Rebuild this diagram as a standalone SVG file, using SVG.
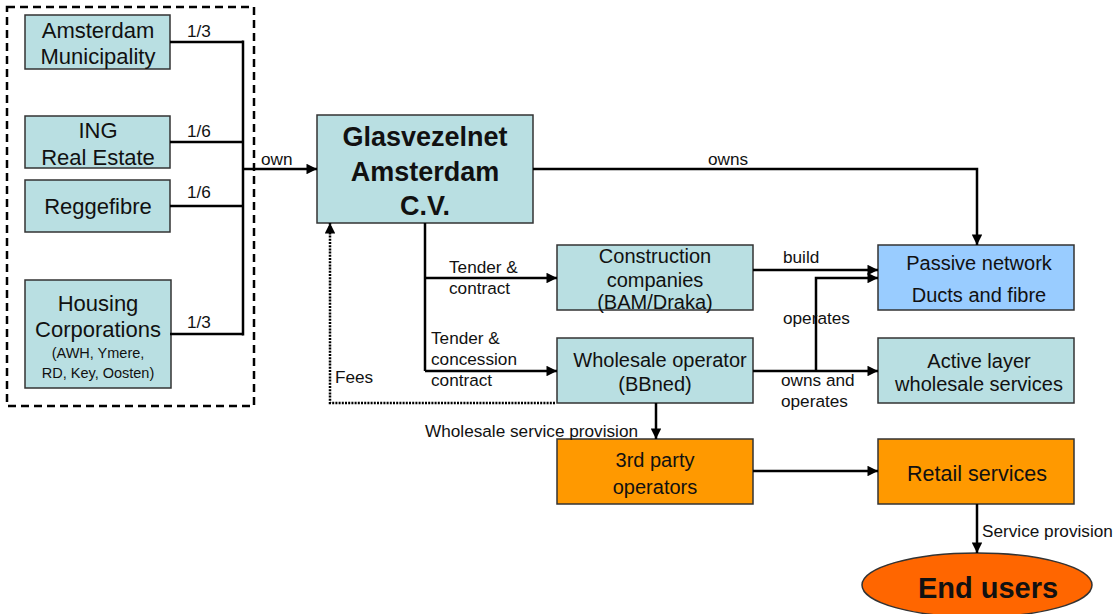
<svg xmlns="http://www.w3.org/2000/svg" width="1117" height="614" viewBox="0 0 1117 614">
<style>
text{font-family:"Liberation Sans",Arial,sans-serif;fill:#111}
.box{fill:#b9dfe2;stroke:#333;stroke-width:1.5}
.pas{fill:#99ccff;stroke:#333;stroke-width:1.5}
.org{fill:#ff9900;stroke:#333;stroke-width:1.5}
.t22{font-size:22px;text-anchor:middle}
.t20{font-size:20px;text-anchor:middle}
.t21{font-size:21.5px;text-anchor:middle}
.t14{font-size:14.5px;text-anchor:middle}
.b{font-weight:bold;text-anchor:middle}
.lab{font-size:17.2px}
.ln{fill:none;stroke:#000;stroke-width:2.5}
</style>
<defs>
<marker id="ah" viewBox="0 0 10 10" refX="10" refY="5" markerWidth="4.6" markerHeight="4.2" orient="auto" markerUnits="strokeWidth"><path d="M0,0L10,5L0,10z" fill="#000"/></marker>
</defs>
<rect x="7" y="7" width="247" height="399" fill="none" stroke="#000" stroke-width="2.5" stroke-dasharray="8,5"/>
<g id="amsterdam"><rect class="box" x="25" y="15" width="145" height="54"/><text class="t22" x="98" y="38">Amsterdam</text><text class="t22" x="98" y="64">Municipality</text></g>
<g id="ing"><rect class="box" x="25" y="116" width="145" height="52"/><text class="t22" x="98" y="138">ING</text><text class="t22" x="98" y="165">Real Estate</text></g>
<g id="reggefibre"><rect class="box" x="25" y="180" width="145" height="52"/><text class="t22" x="98" y="214">Reggefibre</text></g>
<g id="housing"><rect class="box" x="25" y="280" width="146" height="108"/><text class="t22" x="98" y="311">Housing</text><text class="t22" x="98" y="337">Corporations</text><text class="t14" x="98" y="358">(AWH, Ymere,</text><text class="t14" x="98" y="378">RD, Key, Oosten)</text></g>
<g id="gan"><rect class="box" x="317" y="115" width="216" height="108"/><text class="b" font-size="27" x="425" y="146">Glasvezelnet</text><text class="b" font-size="27" x="425" y="181">Amsterdam</text><text class="b" font-size="27" x="425" y="215">C.V.</text></g>
<g id="construction"><rect class="box" x="557" y="245" width="196" height="65"/><text class="t20" x="655" y="263">Construction</text><text class="t20" x="655" y="287">companies</text><text class="t20" x="655" y="309">(BAM/Draka)</text></g>
<g id="wholesale"><rect class="box" x="557" y="338" width="196" height="65"/><text class="t20" x="660" y="367">Wholesale operator</text><text class="t20" x="655" y="391">(BBned)</text></g>
<g id="passive"><rect class="pas" x="878" y="245" width="196" height="65"/><text class="t20" x="979" y="270">Passive network</text><text class="t20" x="979" y="302">Ducts and fibre</text></g>
<g id="active"><rect class="box" x="878" y="338" width="196" height="65"/><text class="t20" x="979" y="368">Active layer</text><text class="t20" x="979" y="391">wholesale services</text></g>
<g id="thirdparty"><rect class="org" x="557" y="439" width="196" height="65"/><text class="t20" x="655" y="467">3rd party</text><text class="t20" x="655" y="494">operators</text></g>
<g id="retail"><rect class="org" x="878" y="439" width="196" height="65"/><text class="t21" x="977" y="481">Retail services</text></g>
<g id="endusers"><ellipse cx="977" cy="585" rx="115" ry="32" fill="#ff6600" stroke="#333" stroke-width="1.5"/><text class="b" font-size="29" x="988" y="598">End users</text></g>
<g id="connectors">
<path class="ln" d="M170,42H243M170,142H243M170,206H243M170,334H243"/>
<path class="ln" d="M243,40.5V335.5" stroke-width="3"/>
<path class="ln" d="M243,169H317" marker-end="url(#ah)"/>
<path class="ln" d="M533,169H977V245" marker-end="url(#ah)"/>
<path class="ln" d="M425,223V371"/>
<path class="ln" d="M425,278H557" marker-end="url(#ah)"/>
<path class="ln" d="M425,371H557" marker-end="url(#ah)"/>
<path class="ln" d="M555,403H330V223" stroke-dasharray="2,1.2" marker-end="url(#ah)"/>
<path class="ln" d="M753,270H878" marker-end="url(#ah)"/>
<path class="ln" d="M816,371V278H878" marker-end="url(#ah)"/>
<path class="ln" d="M753,371H878" marker-end="url(#ah)"/>
<path class="ln" d="M656,403V439" marker-end="url(#ah)"/>
<path class="ln" d="M753,471H878" marker-end="url(#ah)"/>
<path class="ln" d="M977,504V553" marker-end="url(#ah)"/>
<text class="lab" x="187" y="37">1/3</text>
<text class="lab" x="187" y="137">1/6</text>
<text class="lab" x="187" y="198">1/6</text>
<text class="lab" x="187" y="328">1/3</text>
<text class="lab" x="261" y="165">own</text>
<text class="lab" x="708" y="165">owns</text>
<text class="lab" x="449" y="273">Tender &amp;</text>
<text class="lab" x="449" y="294">contract</text>
<text class="lab" x="431" y="344">Tender &amp;</text>
<text class="lab" x="431" y="365">concession</text>
<text class="lab" x="431" y="386">contract</text>
<text class="lab" x="335" y="383">Fees</text>
<text class="lab" x="783" y="263">build</text>
<text class="lab" x="783" y="324">operates</text>
<text class="lab" x="781" y="386">owns and</text>
<text class="lab" x="781" y="407">operates</text>
<text class="lab" x="425" y="437">Wholesale service provision</text>
<text class="lab" x="982" y="537">Service provision</text>
</g>
</svg>
